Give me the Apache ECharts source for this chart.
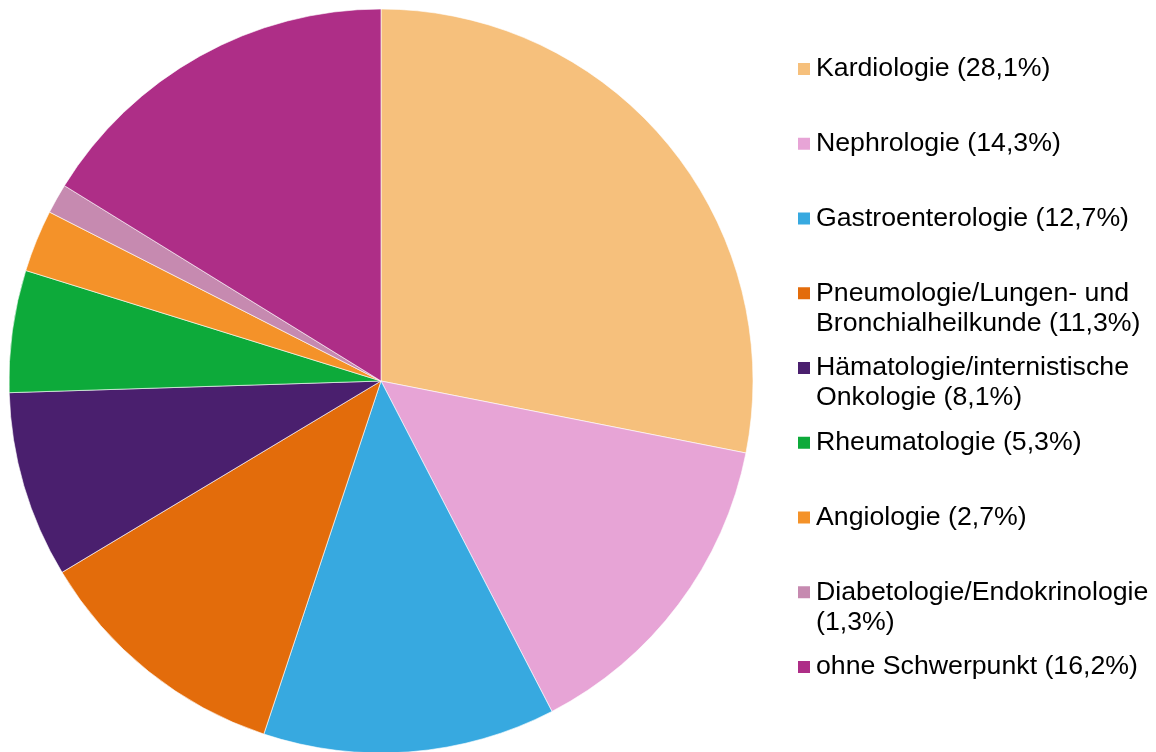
<!DOCTYPE html>
<html>
<head>
<meta charset="utf-8">
<title>Schwerpunkte</title>
<script src="https://cdn.jsdelivr.net/npm/echarts@6/dist/echarts.min.js"></script>
<style>
    html, body { margin: 0; padding: 0; background: #fff; }
    #chart { width: 1156px; height: 752px; }
</style>
</head>
<body>
<div id="chart"></div>
<script>
// Fachrichtungen
var names = ['Kardiologie', 'Nephrologie', 'Gastroenterologie', 'Pneumologie/Lungen- und\nBronchialheilkunde',
    'Hämatologie/internistische\nOnkologie', 'Rheumatologie', 'Angiologie', 'Diabetologie/Endokrinologie\n', 'ohne Schwerpunkt'];
// Anteile in %
var values = [28.1, 14.3, 12.7, 11.3, 8.1, 5.3, 2.7, 1.3, 16.2];
var colors = ['#F6C07C', '#E7A4D6', '#37A9E0', '#E36C0B', '#4A1F6E', '#0DAA3A', '#F49229', '#C68AB0', '#AE2E87'];

function fmt(v) {
    return v.toFixed(1).replace('.', ',') + '%';
}

var pieData = [];
for (var i = 0; i < names.length; i++) {
    pieData.push({ name: names[i], value: values[i], itemStyle: { color: colors[i] } });
}

// eine Legende je Eintrag, damit die Abstände stimmen
var legends = [];
for (var i = 0; i < names.length; i++) {
    var multi = names[i].indexOf('\n') >= 0;
    var center = 69 + i * 74.75; // Mitte der ersten Zeile
    legends.push({
        orient: 'vertical',
        left: 796,
        top: multi ? center - 45 : center - 15,
        padding: 0,
        itemWidth: 14,
        itemHeight: 14,
        icon: 'rect',
        selectedMode: false,
        data: [names[i]],
        formatter: function (name) {
            var k = names.indexOf(name);
            if (name.indexOf('\n') >= 0) {
                // leere Zeile oben, damit die erste Zeile neben dem Symbol steht
                var parts = name.split('\n');
                if (parts[1] === '') return ' \n' + parts[0] + '\n(' + fmt(values[k]) + ')';
                return ' \n' + parts[0] + '\n' + parts[1] + ' (' + fmt(values[k]) + ')';
            }
            return name + ' (' + fmt(values[k]) + ')';
        },
        textStyle: {
            fontFamily: 'Liberation Sans, Arial, sans-serif',
            fontSize: 26.7,
            color: '#000',
            lineHeight: 30
        }
    });
}

var chart = echarts.init(document.getElementById('chart'));
chart.setOption({
    animation: false,
    color: colors,
    legend: legends,
    series: [{
        type: 'pie',
        center: [381, 381],
        radius: [0, 372],
        startAngle: 90,
        clockwise: true,
        label: { show: false },
        labelLine: { show: false },
        emphasis: { disabled: true },
        itemStyle: { borderColor: '#fff', borderWidth: 0.6 },
        data: pieData
    }]
});
</script>
</body>
</html>
